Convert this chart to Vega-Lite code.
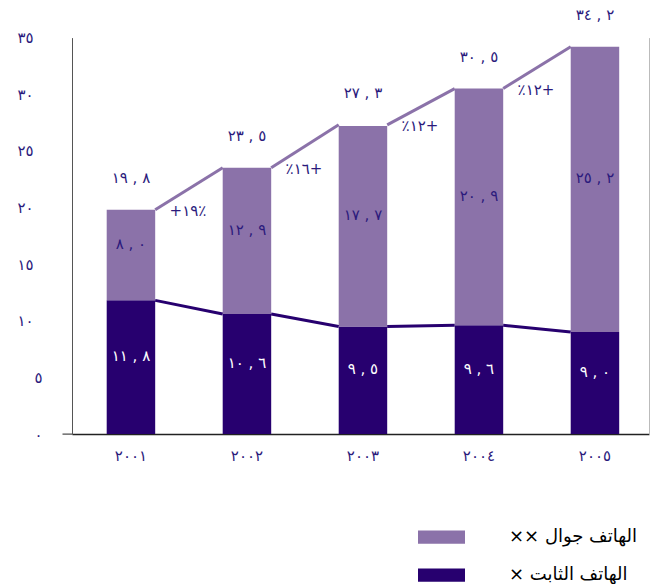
{
  "$schema": "https://vega.github.io/schema/vega-lite/v6.json",
  "autosize": "none",
  "width": 577,
  "height": 396.4,
  "padding": {"left": 72, "top": 37.6, "right": 1, "bottom": 150},
  "config": {"view": {"stroke": null}, "font": "DejaVu Sans"},
  "data": {
    "values": [
      {"year": "٢٠٠١", "fixed": 11.8, "mobile": 8.0, "total": 19.8, "fixedLabel": "١١\u200e , \u200e٨", "mobileLabel": "٨\u200e , \u200e٠", "totalLabel": "١٩\u200e , \u200e٨", "growth": "+١٩٪"},
      {"year": "٢٠٠٢", "fixed": 10.6, "mobile": 12.9, "total": 23.5, "fixedLabel": "١٠\u200e , \u200e٦", "mobileLabel": "١٢\u200e , \u200e٩", "totalLabel": "٢٣\u200e , \u200e٥", "growth": "٪١٦+"},
      {"year": "٢٠٠٣", "fixed": 9.5, "mobile": 17.7, "total": 27.3, "fixedLabel": "٩\u200e , \u200e٥", "mobileLabel": "١٧\u200e , \u200e٧", "totalLabel": "٢٧\u200e , \u200e٣", "growth": "٪١٢+"},
      {"year": "٢٠٠٤", "fixed": 9.6, "mobile": 20.9, "total": 30.5, "fixedLabel": "٩\u200e , \u200e٦", "mobileLabel": "٢٠\u200e , \u200e٩", "totalLabel": "٣٠\u200e , \u200e٥", "growth": "٪١٢+"},
      {"year": "٢٠٠٥", "fixed": 9.0, "mobile": 25.2, "total": 34.2, "fixedLabel": "٩\u200e , \u200e٠", "mobileLabel": "٢٥\u200e , \u200e٢", "totalLabel": "٣٤\u200e , \u200e٢", "growth": ""}
    ]
  },
  "resolve": {"axis": {"y": "independent"}},
  "encoding": {
    "x": {
      "field": "year", "type": "nominal", "sort": null,
      "scale": {"paddingInner": 0.582, "paddingOuter": 0.278, "align": 0.538},
      "axis": {"title": null, "labelAngle": 0, "ticks": false, "domainColor": "#222222", "domainWidth": 1.5, "labelPadding": 14, "labelFontSize": 15, "labelColor": "#2B1A7C", "labelOverlap": false}
    }
  },
  "layer": [
    {
      "transform": [{"fold": ["fixed", "mobile"], "as": ["series", "value"]}],
      "mark": {"type": "bar"},
      "encoding": {
        "y": {
          "field": "value", "type": "quantitative", "stack": "zero",
          "scale": {"domain": [0, 35], "nice": false},
          "axis": {
            "title": null, "grid": false, "values": [0, 5, 10, 15, 20, 25, 30, 35],
            "labelExpr": "replace(replace(replace(replace(replace(datum.label,'0','٠'),'1','١'),'2','٢'),'3','٣'),'5','٥')",
            "labelAlign": "right", "labelBaseline": "middle",
            "labelPadding": {"condition": {"test": "datum.value < 10", "value": 20}, "value": 29},
            "tickSize": 10, "tickColor": "#222222",
            "tickOpacity": {"condition": {"test": "datum.value == 0", "value": 1}, "value": 0},
            "domainColor": "#555555", "labelFontSize": 15, "labelColor": "#2B1A7C"
          }
        },
        "color": {
          "field": "series", "type": "nominal",
          "scale": {"domain": ["mobile", "fixed"], "range": ["#8B72A9", "#27006F"]},
          "legend": {
            "orient": "none", "legendX": 346, "legendY": 476, "title": null, "padding": 0,
            "symbolType": "M-1,-0.28H1V0.28H-1Z", "symbolSize": 2209, "symbolStrokeWidth": 0,
            "labelOffset": 44, "labelFontSize": 18, "labelColor": "#000000", "rowPadding": 5,
            "labelExpr": "datum.value == 'mobile' ? '×× الهاتف جوال' : '× الهاتف الثابت'"
          }
        },
        "order": {"field": "series", "sort": "ascending"}
      }
    },
    {
      "transform": [
        {"window": [
          {"op": "lead", "field": "year", "as": "nextYear"},
          {"op": "lead", "field": "total", "as": "nextTotal"},
          {"op": "lead", "field": "fixed", "as": "nextFixed"}
        ], "sort": [{"field": "year"}]},
        {"filter": "datum.nextYear != null"}
      ],
      "layer": [
        {
          "mark": {"type": "rule", "color": "#8B72A9", "strokeWidth": 3, "xOffset": 24.25, "x2Offset": -24.25},
          "encoding": {
            "x2": {"field": "nextYear"},
            "y": {"field": "total", "type": "quantitative", "axis": null},
            "y2": {"field": "nextTotal"}
          }
        },
        {
          "mark": {"type": "rule", "color": "#27006F", "strokeWidth": 3, "xOffset": 24.25, "x2Offset": -24.25},
          "encoding": {
            "x2": {"field": "nextYear"},
            "y": {"field": "fixed", "type": "quantitative", "axis": null},
            "y2": {"field": "nextFixed"}
          }
        }
      ]
    },
    {
      "transform": [
        {"fold": ["fixed", "mobile"], "as": ["series", "value"]},
        {"stack": "value", "groupby": ["year"], "sort": [{"field": "series", "order": "ascending"}], "as": ["v0", "v1"]},
        {"calculate": "(datum.v0 + datum.v1) / 2", "as": "mid"},
        {"calculate": "datum.series == 'fixed' ? datum.fixedLabel : datum.mobileLabel", "as": "label"}
      ],
      "mark": {"type": "text", "dy": -11, "fontSize": 15, "baseline": "middle", "align": "center"},
      "encoding": {
        "y": {"field": "mid", "type": "quantitative", "axis": null},
        "text": {"field": "label"},
        "color": {"condition": {"test": "datum.series == 'fixed'", "value": "#FFFFFF"}, "value": "#2B1A7C"}
      }
    },
    {
      "mark": {"type": "text", "dy": -32, "fontSize": 15, "baseline": "middle", "align": "center", "color": "#2B1A7C"},
      "encoding": {
        "y": {"field": "total", "type": "quantitative", "axis": null},
        "text": {"field": "totalLabel"}
      }
    },
    {
      "transform": [{"filter": "datum.growth != ''"}],
      "mark": {"type": "text", "dx": 57, "dy": 1, "fontSize": 15, "baseline": "middle", "align": "center", "color": "#2B1A7C"},
      "encoding": {
        "y": {"field": "total", "type": "quantitative", "axis": null},
        "text": {"field": "growth"}
      }
    },
    {
      "mark": {"type": "point", "opacity": 0},
      "encoding": {
        "y": {"field": "total", "type": "quantitative", "axis": {"orient": "right", "labels": false, "ticks": false, "grid": false, "title": null, "domainColor": "#BBBBBB"}}
      }
    }
  ]
}
